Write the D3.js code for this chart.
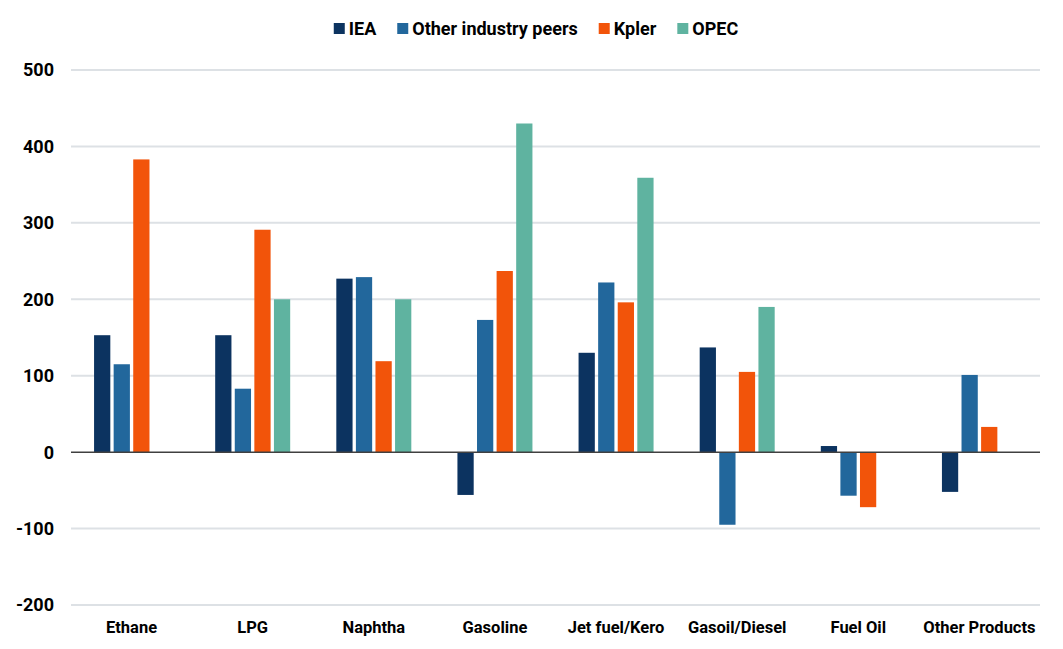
<!DOCTYPE html>
<html>
<head>
<meta charset="utf-8">
<script src="https://cdn.jsdelivr.net/npm/d3@7"></script>
<style>
  body { margin: 0; background: #fff; }
  svg text { font-family: Roboto, "Liberation Sans", sans-serif; font-weight: bold; fill: #000; }
</style>
</head>
<body>
<div id="chart"></div>
<script>
var categories = ["Ethane", "LPG", "Naphtha", "Gasoline", "Jet fuel/Kero", "Gasoil/Diesel", "Fuel Oil", "Other Products"];
var seriesNames = ["IEA", "Other industry peers", "Kpler", "OPEC"];
var colors = ["#0c3360", "#22679c", "#f2540a", "#5fb3a0"];

// null = no bar
var iea    = [153, 153, 227, -56, 130, 137, 8, -52];
var peers  = [115, 83, 229, 173, 222, -95, -57, 101];
var kpler  = [383, 291, 119, 237, 196, 105, -72, 33];
var opec   = [null, 200, 200, 430, 359, 190, null, null];
var yTicks = [-200, -100, 0, 100, 200, 300, 400, 500];

var allSeries = [iea, peers, kpler, opec];

var W = 1063, H = 649;
var pArea = [71, 70, 1040, 605]; // left, top, right, bottom

var svg = d3.select("#chart")
  .append("svg")
  .attr("width", W)
  .attr("height", H);

var x = d3.scaleBand()
  .domain(categories)
  .range([pArea[0], pArea[2]])
  .padding(0);

var y = d3.scaleLinear()
  .domain([-200, 500])
  .range([pArea[3], pArea[1]]);

var xs = d3.scaleBand()
  .domain(seriesNames)
  .range([0, 75])
  .paddingInner(0.17)
  .paddingOuter(0);

// gridlines
svg.append("g")
  .selectAll("line")
  .data(yTicks.filter(function (d) { return d !== 0; }))
  .enter().append("line")
  .attr("x1", pArea[0])
  .attr("x2", pArea[2])
  .attr("y1", function (d) { return y(d); })
  .attr("y2", function (d) { return y(d); })
  .attr("stroke", "#dde1e5")
  .attr("stroke-width", 2);

// y labels
svg.append("g")
  .selectAll("text")
  .data(yTicks)
  .enter().append("text")
  .attr("x", 54)
  .attr("y", function (d) { return y(d); })
  .attr("dy", "0.36em")
  .attr("text-anchor", "end")
  .style("font-size", "18px")
  .text(function (d) { return d; });

// bars
var groupOffset = (x.bandwidth() - 75) / 2;
allSeries.forEach(function (vals, si) {
  svg.append("g")
    .selectAll("rect")
    .data(vals.map(function (v, i) { return { cat: categories[i], v: v }; })
      .filter(function (d) { return d.v !== null; }))
    .enter().append("rect")
    .attr("x", function (d) { return x(d.cat) + groupOffset + xs(seriesNames[si]); })
    .attr("width", xs.bandwidth())
    .attr("y", function (d) { return y(Math.max(0, d.v)); })
    .attr("height", function (d) { return Math.abs(y(d.v) - y(0)); })
    .attr("fill", colors[si]);
});

// zero line
svg.append("line")
  .attr("x1", pArea[0])
  .attr("x2", pArea[2])
  .attr("y1", y(0))
  .attr("y2", y(0))
  .attr("stroke", "#404040")
  .attr("stroke-width", 1.5);

// x labels
svg.append("g")
  .selectAll("text")
  .data(categories)
  .enter().append("text")
  .attr("x", function (d) { return x(d) + x.bandwidth() / 2; })
  .attr("y", 633)
  .attr("text-anchor", "middle")
  .style("font-size", "16.5px")
  .text(function (d) { return d; });

// legend
var legend = svg.append("g");
var lx = 0;
seriesNames.forEach(function (name, i) {
  var g = legend.append("g").attr("transform", "translate(" + lx + ",0)");
  g.append("rect")
    .attr("x", 0).attr("y", 23)
    .attr("width", 11).attr("height", 11)
    .attr("fill", colors[i]);
  var t = g.append("text")
    .attr("x", 15).attr("y", 35)
    .style("font-size", "18px")
    .text(name);
  lx += 15 + t.node().getComputedTextLength() + 21;
});
var legendW = lx - 21;
legend.attr("transform", "translate(" + (536 - legendW / 2) + ",0)");
</script>
</body>
</html>
